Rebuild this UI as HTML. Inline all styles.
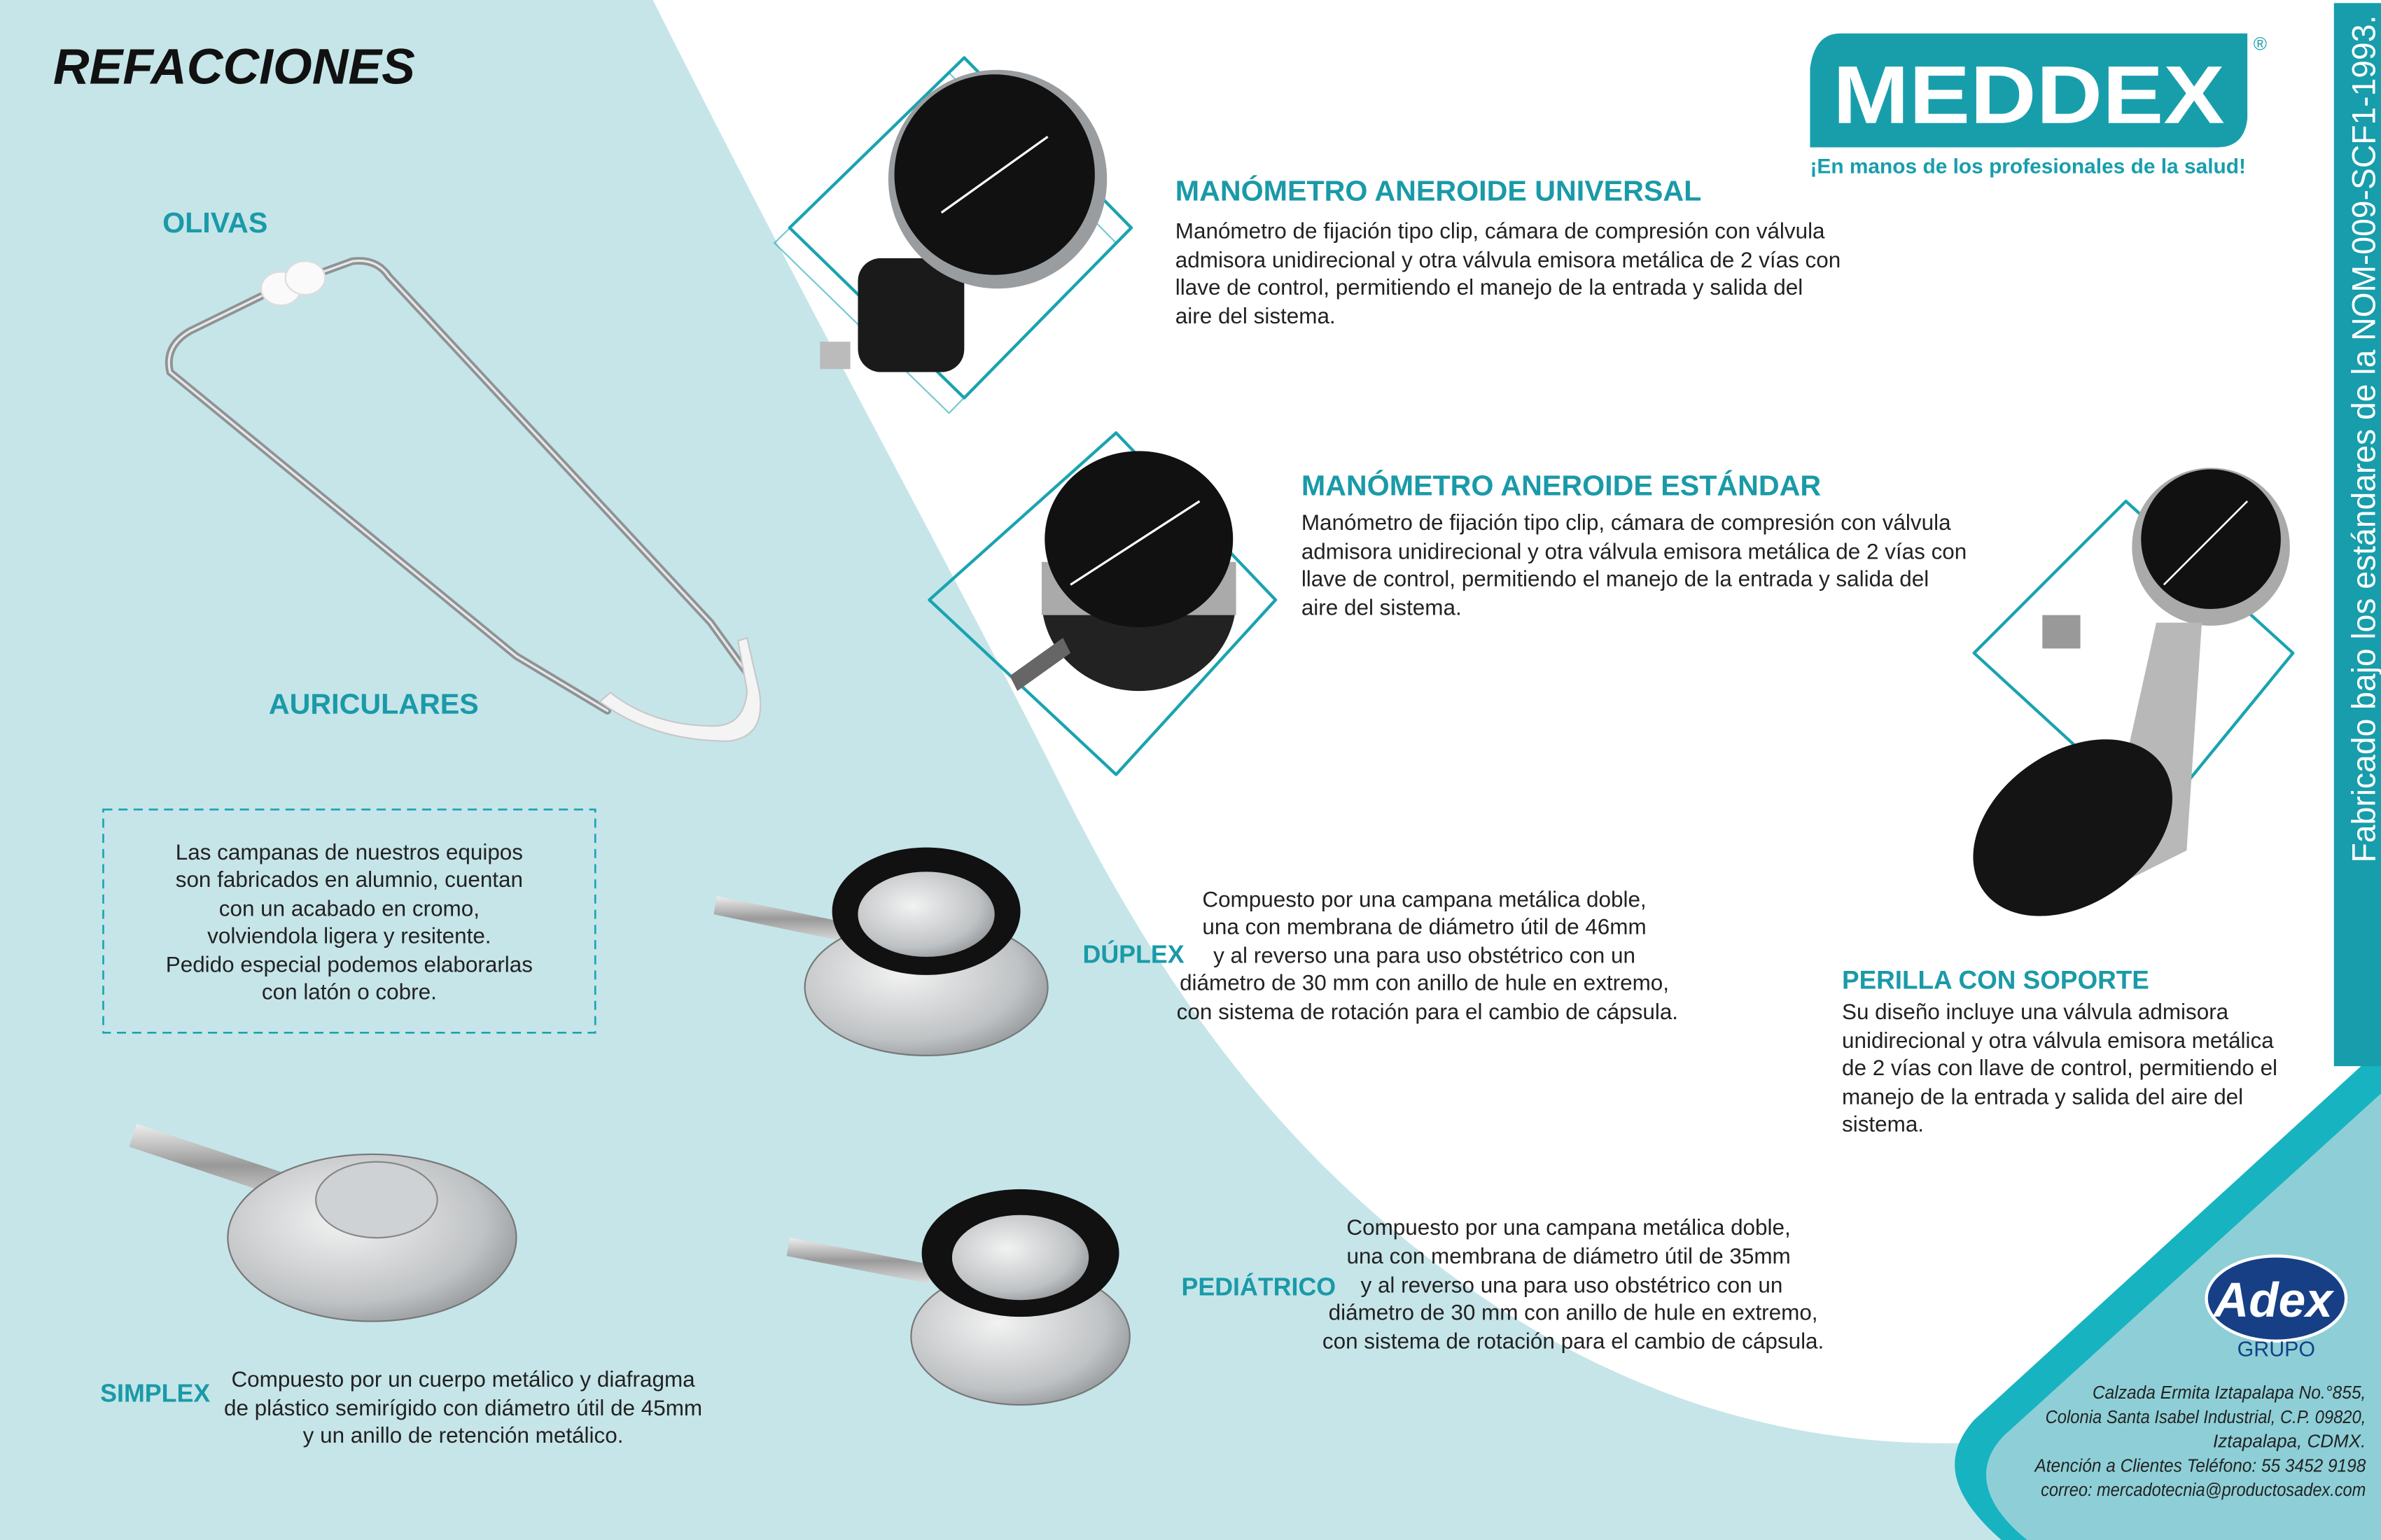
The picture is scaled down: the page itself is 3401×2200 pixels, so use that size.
<!DOCTYPE html>
<html><head><meta charset="utf-8"><style>
html,body{margin:0;padding:0;background:#fff}
svg{display:block}
text{font-family:"Liberation Sans",sans-serif}
</style></head><body>
<svg width="3401" height="2200" viewBox="0 0 1568 1014" xmlns="http://www.w3.org/2000/svg" preserveAspectRatio="none">
<defs>
<radialGradient id="steel" cx="0.4" cy="0.4" r="0.7"><stop offset="0" stop-color="#f2f2f2"/><stop offset="0.7" stop-color="#bfc2c4"/><stop offset="1" stop-color="#8c9093"/></radialGradient>
<linearGradient id="tube" x1="0" y1="0" x2="0" y2="1"><stop offset="0" stop-color="#eee"/><stop offset="0.5" stop-color="#999"/><stop offset="1" stop-color="#ddd"/></linearGradient>
</defs>
<rect width="1568" height="1014" fill="#c6e5e9"/>
<path d="M430,0 L1568,0 L1568,700 L1300,950 C1150,955 1030,900 930,820 C830,740 760,640 700,520 C630,380 530,200 430,0 Z" fill="#fff"/>
<path d="M1568,690 L1568,1014 L1318,1014 C1285,985 1278,960 1300,935 Z" fill="#17b3c0"/>
<path d="M1568,720 L1568,1014 L1335,1014 C1305,990 1300,965 1320,945 Z" fill="#8ecfd7"/>
<rect x="1537" y="2" width="31" height="700" fill="#179dab"/>
<text transform="translate(1564,568) rotate(-90)" font-size="22" fill="#fff" textLength="558" lengthAdjust="spacingAndGlyphs">Fabricado bajo los estándares  de la NOM-009-SCF1-1993.</text>

<text x="35" y="55" font-size="33" font-weight="bold" font-style="italic" fill="#111">REFACCIONES</text>
<text x="107" y="153" font-size="19" fill="#1a9aa8" font-weight="bold">OLIVAS</text>
<text x="177" y="470" font-size="19" fill="#1a9aa8" font-weight="bold">AURICULARES</text>

<!-- stethoscope binaural -->
<g fill="none" stroke-linecap="round">
<path d="M172,195 L125,218 Q108,228 112,245 L340,432 L400,468" stroke="#8f9396" stroke-width="5"/>
<path d="M172,195 L125,218 Q108,228 112,245 L340,432 L400,468" stroke="#e8e8e8" stroke-width="1.5"/>
<path d="M210,180 L232,172 Q248,170 256,182 L468,410 L494,446" stroke="#8f9396" stroke-width="5"/>
<path d="M210,180 L232,172 Q248,170 256,182 L468,410 L494,446" stroke="#e8e8e8" stroke-width="1.5"/>
</g>
<path d="M395,462 Q430,488 480,488 Q505,485 500,455 L492,420 L486,422 L492,455 Q490,478 470,478 Q430,478 402,456 Z" fill="#f4f4f4" stroke="#c8c8c8"/>
<ellipse cx="185" cy="190" rx="13" ry="11" fill="#fafafa" stroke="#ddd"/>
<ellipse cx="201" cy="183" rx="13" ry="11" fill="#fafafa" stroke="#ddd"/>

<rect x="68" y="533" width="324" height="147" fill="none" stroke="#1aa3b0" stroke-width="1.2" stroke-dasharray="6,4"/>
<g font-size="14.5" fill="#222" text-anchor="middle">
<text x="230" y="566">Las campanas de nuestros equipos</text>
<text x="230" y="584">son fabricados en alumnio, cuentan</text>
<text x="230" y="603">con un acabado en cromo,</text>
<text x="230" y="621">volviendola ligera y resitente.</text>
<text x="230" y="640">Pedido especial podemos elaborarlas</text>
<text x="230" y="658">con  latón o cobre.</text>
</g>

<path d="M90,740 L210,780 L205,795 L85,755 Z" fill="url(#tube)"/>
<ellipse cx="245" cy="815" rx="95" ry="55" fill="url(#steel)" stroke="#777"/>
<ellipse cx="248" cy="790" rx="40" ry="25" fill="#cfd2d4" stroke="#888"/>
<text x="66" y="923" font-size="16.5" fill="#1a9aa8" font-weight="bold">SIMPLEX</text>
<g font-size="14.5" fill="#222" text-anchor="middle">
<text x="305" y="913">Compuesto por un cuerpo metálico y diafragma</text>
<text x="305" y="932">de plástico semirígido con diámetro útil de 45mm</text>
<text x="305" y="950">y un anillo de retención metálico.</text>
</g>

<path d="M472,590 L560,608 L556,620 L470,602 Z" fill="url(#tube)"/>
<ellipse cx="610" cy="650" rx="80" ry="45" fill="url(#steel)" stroke="#777"/>
<ellipse cx="610" cy="600" rx="62" ry="42" fill="#111"/>
<ellipse cx="610" cy="602" rx="45" ry="28" fill="url(#steel)"/>
<text x="713" y="634" font-size="16.5" fill="#1a9aa8" font-weight="bold">DÚPLEX</text>
<g font-size="14.5" fill="#222" text-anchor="middle">
<text x="938" y="597">Compuesto por una campana metálica doble,</text>
<text x="938" y="615">una con membrana de diámetro útil de 46mm</text>
<text x="938" y="634">y al reverso una para uso obstétrico con un</text>
<text x="938" y="652">diámetro de 30 mm con anillo de hule en extremo,</text>
<text x="940" y="671">con sistema de rotación para el cambio de cápsula.</text>
</g>

<path d="M520,815 L615,833 L611,845 L518,827 Z" fill="url(#tube)"/>
<ellipse cx="672" cy="880" rx="72" ry="45" fill="url(#steel)" stroke="#777"/>
<ellipse cx="672" cy="825" rx="65" ry="42" fill="#111"/>
<ellipse cx="672" cy="828" rx="45" ry="28" fill="url(#steel)"/>
<text x="778" y="853" font-size="16.5" fill="#1a9aa8" font-weight="bold">PEDIÁTRICO</text>
<g font-size="14.5" fill="#222" text-anchor="middle">
<text x="1033" y="813">Compuesto por una campana metálica doble,</text>
<text x="1033" y="832">una con membrana de diámetro útil de 35mm</text>
<text x="1035" y="851">y al reverso una para uso obstétrico con un</text>
<text x="1036" y="869">diámetro de 30 mm con anillo de hule en extremo,</text>
<text x="1036" y="888">con sistema de rotación para el cambio de cápsula.</text>
</g>

<path d="M635,38 L745,150 L635,262 L520,150 Z" fill="none" stroke="#1aa3b0" stroke-width="2" stroke-linejoin="round"/>
<path d="M625,48 L735,160 L625,272 L510,160 Z" fill="none" stroke="#1aa3b0" stroke-width="1" opacity="0.6"/>
<rect x="565" y="170" width="70" height="75" rx="15" fill="#1a1a1a"/>
<rect x="540" y="225" width="20" height="18" fill="#bbb"/>
<circle cx="657" cy="118" r="72" fill="#9a9da0"/>
<circle cx="655" cy="115" r="66" fill="#111"/>
<line x1="620" y1="140" x2="690" y2="90" stroke="#fff" stroke-width="1.5"/>
<path d="M735,285 L840,395 L735,510 L612,395 Z" fill="none" stroke="#1aa3b0" stroke-width="2" stroke-linejoin="round"/>
<ellipse cx="750" cy="395" rx="64" ry="60" fill="#222"/>
<rect x="686" y="370" width="128" height="35" fill="#aaa"/>
<ellipse cx="750" cy="355" rx="62" ry="58" fill="#111"/>
<line x1="705" y1="385" x2="790" y2="330" stroke="#fff" stroke-width="1.5"/>
<path d="M665,445 L700,420 L705,430 L670,455 Z" fill="#666"/>
<text x="774" y="132" font-size="19" fill="#1a9aa8" font-weight="bold">MANÓMETRO ANEROIDE UNIVERSAL</text>
<g font-size="14.5" fill="#222">
<text x="774" y="157">Manómetro de fijación tipo clip, cámara de compresión con válvula</text>
<text x="774" y="176">admisora unidirecional y otra válvula emisora metálica de 2 vías con</text>
<text x="774" y="194">llave de control, permitiendo el manejo de la entrada y salida  del</text>
<text x="774" y="213">aire del sistema.</text>
</g>
<text x="857" y="326" font-size="19" fill="#1a9aa8" font-weight="bold">MANÓMETRO ANEROIDE ESTÁNDAR</text>
<g font-size="14.5" fill="#222">
<text x="857" y="349">Manómetro de fijación tipo clip, cámara de compresión con válvula</text>
<text x="857" y="368">admisora unidirecional y otra válvula emisora metálica de 2 vías con</text>
<text x="857" y="386">llave de control, permitiendo el manejo de la entrada y salida  del</text>
<text x="857" y="405">aire del sistema.</text>
</g>

<path d="M1400,330 L1510,430 L1420,540 L1300,430 Z" fill="none" stroke="#1aa3b0" stroke-width="2" stroke-linejoin="round"/>
<circle cx="1456" cy="360" r="52" fill="#aaa"/>
<circle cx="1456" cy="355" r="46" fill="#111"/>
<line x1="1425" y1="385" x2="1480" y2="330" stroke="#fff" stroke-width="1.2"/>
<rect x="1345" y="405" width="25" height="22" fill="#999"/>
<path d="M1420,410 L1450,410 L1440,560 L1380,590 Z" fill="#b8b8b8"/>
<ellipse cx="1365" cy="545" rx="72" ry="50" transform="rotate(-35 1365 545)" fill="#141414"/>
<text x="1213" y="651" font-size="17" fill="#1a9aa8" font-weight="bold">PERILLA CON SOPORTE</text>
<g font-size="14.5" fill="#222">
<text x="1213" y="671">Su diseño incluye una válvula admisora</text>
<text x="1213" y="690">unidirecional y otra válvula emisora metálica</text>
<text x="1213" y="708">de 2 vías con llave de control, permitiendo el</text>
<text x="1213" y="727">manejo de la entrada y salida  del aire del</text>
<text x="1213" y="745">sistema.</text>
</g>

<path d="M1212,22 L1480,22 L1480,78 Q1478,97 1460,97 L1192,97 L1192,45 Q1195,22 1212,22 Z" fill="#189eab"/>
<text x="1336" y="81" font-size="54" font-weight="bold" fill="#fff" text-anchor="middle" textLength="258" lengthAdjust="spacingAndGlyphs">MEDDEX</text>
<text x="1484" y="33" font-size="12" fill="#189eab">®</text>
<text x="1192" y="114" font-size="13.5" font-weight="bold" fill="#189eab" textLength="287" lengthAdjust="spacingAndGlyphs">¡En manos de los profesionales de la salud!</text>

<ellipse cx="1499" cy="855" rx="46" ry="28" fill="#173f86" stroke="#fff" stroke-width="2"/>
<text x="1497" y="867" font-size="32" font-style="italic" font-weight="bold" fill="#fff" text-anchor="middle" font-family="Liberation Serif">Adex</text>
<text x="1499" y="893" font-size="14" fill="#173f86" text-anchor="middle">GRUPO</text>
<g font-size="12" font-style="italic" fill="#222" text-anchor="end">
<text x="1558" y="921" textLength="180" lengthAdjust="spacingAndGlyphs">Calzada Ermita Iztapalapa No.°855,</text>
<text x="1558" y="937" textLength="211" lengthAdjust="spacingAndGlyphs">Colonia Santa Isabel Industrial, C.P. 09820,</text>
<text x="1558" y="953">Iztapalapa, CDMX.</text>
<text x="1558" y="969" textLength="218" lengthAdjust="spacingAndGlyphs">Atención a Clientes Teléfono: 55 3452 9198</text>
<text x="1558" y="985" textLength="214" lengthAdjust="spacingAndGlyphs">correo: mercadotecnia@productosadex.com</text>
</g>
</svg>
</body></html>
